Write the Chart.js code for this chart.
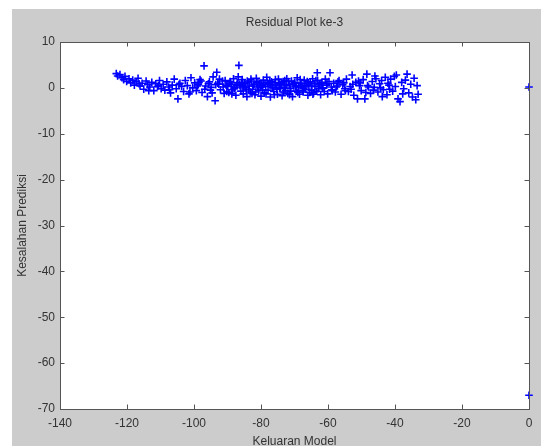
<!DOCTYPE html>
<html>
<head>
<meta charset="utf-8">
<script src="https://cdn.jsdelivr.net/npm/chart.js@4/dist/chart.umd.min.js"></script>
<style>
  html, body { margin: 0; padding: 0; background: #ffffff; }
  #wrap { width: 541px; height: 446px; }
</style>
</head>
<body>
<div id="wrap"><canvas id="residualChart" width="541" height="446"></canvas></div>
<script>
// model output (x) and prediction error (y), one pair per point
const modelOutput = [
    -123.2, -122.8, -122.1, -121.5, -121.0, -120.6, -120.1, -119.4, -118.9, -118.3,
    -117.8, -117.2, -116.7, -116.1, -115.5, -115.0, -114.3, -113.8, -113.2, -112.6,
    -112.0, -111.4, -110.9, -110.3, -109.8,
    -109.2, -108.7, -108.1, -107.6, -107.0, -106.5, -105.9, -105.3, -104.8, -104.2,
    -103.7, -103.1, -102.6, -102.0, -101.5, -100.9, -100.4, -99.8, -99.3, -98.7,
    -98.2, -97.6, -97.0, -96.5, -96.0, -95.4, -94.9, -94.3, -93.7, -93.2,
    -92.6, -92.1, -91.5, -91.0, -90.4,
    -89.9, -89.6, -89.2, -88.9, -88.5, -88.2, -87.8, -87.5, -87.1, -86.6,
    -86.3, -86.0, -85.6, -85.3, -84.9, -84.6, -84.2, -83.9, -83.5, -83.2,
    -82.8, -82.5, -82.1, -81.8, -81.4, -81.1, -80.7, -80.4, -80.0, -79.7,
    -79.3, -79.0, -78.6, -78.3, -77.9, -77.6, -77.2, -76.9, -76.5, -76.2,
    -75.8, -75.5, -75.1, -74.8, -74.4, -74.1, -73.7, -73.4, -73.0, -72.7,
    -72.3, -72.0, -71.6, -71.3, -70.9, -70.6, -70.2, -69.9, -69.5, -69.2,
    -68.8, -68.5, -68.1, -67.8, -67.4, -67.1, -66.7, -66.4, -66.0, -65.7,
    -65.3, -65.0, -64.6, -64.3, -63.9, -63.6, -63.2, -62.9, -62.5, -62.2,
    -61.8, -61.5, -61.1, -60.8, -60.4, -60.1, -59.7, -59.4, -59.0, -58.7,
    -89.4, -88.0, -86.8, -85.1, -83.7, -82.3, -80.9, -79.5, -78.1, -76.7,
    -75.3, -73.9, -72.5, -71.1, -69.7, -68.3, -66.9, -65.5, -64.1, -62.7,
    -88.7, -87.3, -85.8, -84.4, -83.0, -81.6, -80.2, -78.8, -77.4, -76.0,
    -74.6, -73.2, -71.8, -70.4, -69.0, -67.6, -66.2, -64.8, -63.4, -62.0,
    -99.0, -97.9, -96.8, -95.7, -94.6, -93.5, -92.4, -91.3, -90.2, -89.1,
    -87.9, -86.5, -85.4, -84.1, -82.7, -81.3, -79.9, -78.5, -77.1, -75.7,
    -74.3, -72.9, -71.5, -70.1, -68.7, -67.3, -65.9, -64.5, -63.1, -61.7,
    -116.4, -113.5, -110.6, -107.3, -104.5, -101.2, -98.5, -95.1, -92.9, -90.7,
    -58.3, -57.8, -57.2, -56.7, -56.1, -55.6, -55.0, -54.5, -53.9, -53.4,
    -52.8, -52.3, -51.7, -51.2, -50.6, -50.1, -49.5, -49.0, -48.4, -47.9,
    -47.3, -46.8, -46.2, -45.7, -45.1, -44.6, -44.0, -43.5, -42.9, -42.4,
    -41.8, -41.3, -40.7, -40.2, -39.6, -39.1, -38.5, -38.0, -37.4, -36.9,
    -36.4, -35.9, -35.3, -34.8, -34.3, -33.8, -33.4, -33.1,
    -57.5, -55.3, -53.1, -50.9, -48.7, -46.5, -44.3, -42.1, -39.9, -37.7,
    -60.3, -58.9, -57.0, -54.8, -52.6, -50.4, -48.2, -46.0, -43.8, -41.6,
    0, 0
];

const residual = [
    3.1, 2.6, 2.9, 2.2, 1.8, 2.5, 1.4, 2.0, 1.1, 1.7,
    0.6, 1.3, 2.1, 0.4, 1.0, -0.3, 1.5, 0.7, 0.2, 1.2,
    -0.6, 0.9, 0.3, 1.6, -0.2,
    0.8, -0.5, 1.3, 0.2, -1.1, 0.6, 1.9, -0.2, -2.4, 1.0,
    0.3, -0.8, 1.6, 0.5, -1.3, 2.2, 0.0, 1.1, -0.6, 0.7,
    1.8, -1.0, 4.8, 0.4, -1.9, 1.3, 0.1, 2.4, -2.8, 3.4,
    0.8, -0.4, 1.5, -1.2, 0.6,
    0.3, -1.0, 1.4, 0.7, -0.4, 2.0, 0.1, -1.6, 1.1, 4.9,
    0.5, -0.7, 1.8, -1.3, 0.9, 0.0, -1.9, 1.2, 0.4, -0.9,
    1.5, -0.3, 0.8, -1.5, 2.1, 0.2, -0.6, 1.0, -1.8, 0.6,
    1.7, -1.1, 0.3, 2.3, -0.5, 0.9, -2.0, 1.3, 0.0, -0.8,
    1.1, 0.5, -1.4, 1.9, -0.2, 0.7, -1.7, 1.4, 0.2, -0.6,
    2.0, -1.2, 0.8, -0.1, 1.5, -1.9, 0.4, 1.2, -0.7, 2.2,
    0.1, -1.4, 1.0, 0.6, -0.9, 1.7, -0.3, 0.9, -1.6, 0.5,
    1.3, -0.5, 2.0, -1.1, 0.3, 1.6, 3.3, -0.2, 0.8, -1.5,
    1.2, 0.0, -0.8, 1.9, 0.6, -1.3, 1.4, 3.3, 0.2, -0.6,
    1.0, -0.2, 2.4, 0.2, -0.4, 0.4, 1.3, -0.5, 1.2, 0.5,
    -0.3, 1.1, 0.6, -0.7, 0.3, 1.8, 0.2, -1.0, 0.9, 0.4,
    -1.3, 0.6, 1.2, -0.4, 1.9, -0.9, 0.1, 0.8, 1.6, -1.5,
    0.9, -0.9, 1.4, 0.8, -1.0, -0.6, 1.4, 0.4, -0.7, 1.1,
    0.4, 1.5, -0.3, 0.9, -1.1, 0.7, 1.9, 0.2, -0.8, 1.3,
    -0.1, 0.8, 0.3, 1.5, -1.2, 1.1, 0.5, -1.3, 0.7, 1.8,
    0.0, 1.6, -1.5, 1.0, 0.5, -0.2, 1.1, -1.4, 1.6, -0.1,
    0.9, -0.6, 0.5, -0.4, 0.7, -0.9, 1.2, -0.5, 1.0, 1.6,
    1.0, -0.9, 0.4, 1.6, -1.4, 0.7, -0.2, 1.9, -0.8, 0.3,
    2.8, -1.6, 1.2, -2.4, 0.5, -0.6, 1.8, -2.4, 3.0, 0.2,
    -1.2, 1.4, 0.1, 2.0, -0.9, 0.9, 1.6, -0.4, 2.3, -1.5,
    0.6, 1.9, -0.7, 2.5, 2.8, -2.4, -3.0, 1.2, -0.2, 1.7,
    3.0, -1.1, 0.8, -2.0, 2.1, -2.6, 0.5, -1.4,
    0.2, 1.1, -0.3, 1.5, -1.0, -0.5, 0.0, 1.0, 0.3, -1.3,
    0.9, -0.4, 1.3, -0.6, 0.8, 1.1, 0.5, 2.6, -1.9, -0.3,
    0.2, -67
];

const xTicks = [-140, -120, -100, -80, -60, -40, -20, 0];
const yTicks = [10, 0, -10, -20, -30, -40, -50, -60, -70];

const points = modelOutput.map((x, i) => ({ x: x, y: residual[i] }));

const FONT = 'Liberation Sans, Arial, Helvetica, sans-serif';
const TEXT = '#333333';
const AXIS = '#555555';

// grey figure background with a white axes box
const figureBackground = {
    id: 'figureBackground',
    beforeDraw(chart) {
        const { ctx, chartArea: a } = chart;
        ctx.save();
        ctx.fillStyle = '#ffffff';
        ctx.fillRect(0, 0, chart.width, chart.height);
        ctx.fillStyle = '#cccccc';
        ctx.fillRect(12, 9, chart.width - 12, chart.height - 9);
        ctx.fillStyle = '#ffffff';
        ctx.fillRect(a.left, a.top, a.right - a.left, a.bottom - a.top);
        ctx.restore();
    }
};

// box outline and inward tick marks on all four sides
const axesBox = {
    id: 'axesBox',
    afterDatasetsDraw(chart) {
        const { ctx, chartArea: a, scales } = chart;
        const len = 4.5;
        ctx.save();
        ctx.strokeStyle = AXIS;
        ctx.lineWidth = 1;
        ctx.beginPath();
        xTicks.forEach(v => {
            const px = Math.round(scales.x.getPixelForValue(v)) + 0.5;
            ctx.moveTo(px, a.bottom); ctx.lineTo(px, a.bottom - len);
            ctx.moveTo(px, a.top); ctx.lineTo(px, a.top + len);
        });
        yTicks.forEach(v => {
            const py = Math.round(scales.y.getPixelForValue(v)) + 0.5;
            ctx.moveTo(a.left, py); ctx.lineTo(a.left + len, py);
            ctx.moveTo(a.right, py); ctx.lineTo(a.right - len, py);
        });
        ctx.stroke();
        ctx.strokeRect(Math.round(a.left) + 0.5, Math.round(a.top) + 0.5,
            Math.round(a.right - a.left), Math.round(a.bottom - a.top));
        ctx.restore();
    }
};

new Chart(document.getElementById('residualChart'), {
    type: 'scatter',
    data: {
        datasets: [{
            label: 'Residual',
            data: points,
            showLine: false,
            pointStyle: 'cross',
            pointRadius: 3.8,
            pointHoverRadius: 3.8,
            pointBorderWidth: 1.6,
            borderColor: '#0000ff',
            backgroundColor: '#0000ff',
            clip: false,
        }],
    },
    options: {
        responsive: false,
        animation: false,
        events: [],
        layout: { padding: { left: 0, right: 12, top: 0, bottom: 0 } },
        plugins: {
            legend: { display: false },
            tooltip: { enabled: false },
            title: {
                display: true,
                text: 'Residual Plot ke-3',
                color: TEXT,
                fullSize: false,
                font: { family: FONT, size: 12, weight: 'normal' },
                padding: { top: 15, bottom: 12.6 },
            },
        },
        scales: {
            x: {
                type: 'linear',
                min: -140,
                max: 0,
                afterFit(scale) { scale.height = 37; },
                afterBuildTicks(scale) { scale.ticks = xTicks.map(v => ({ value: v })); },
                ticks: {
                    color: TEXT,
                    font: { family: FONT, size: 12 },
                    padding: 7,
                    maxRotation: 0,
                },
                grid: { display: false, drawTicks: false },
                border: { display: false },
                title: {
                    display: true,
                    text: 'Keluaran Model',
                    color: TEXT,
                    font: { family: FONT, size: 12 },
                    padding: { top: 0, bottom: -3 },
                },
            },
            y: {
                type: 'linear',
                min: -70,
                max: 10,
                afterFit(scale) { scale.width = 60; },
                afterBuildTicks(scale) { scale.ticks = yTicks.map(v => ({ value: v })); },
                ticks: {
                    color: TEXT,
                    font: { family: FONT, size: 12 },
                    padding: 5,
                },
                grid: { display: false, drawTicks: false },
                border: { display: false },
                title: {
                    display: true,
                    text: 'Kesalahan Prediksi',
                    color: TEXT,
                    font: { family: FONT, size: 12 },
                    padding: { top: 15, bottom: 0 },
                },
            },
        },
    },
    plugins: [figureBackground, axesBox],
});
</script>
</body>
</html>
